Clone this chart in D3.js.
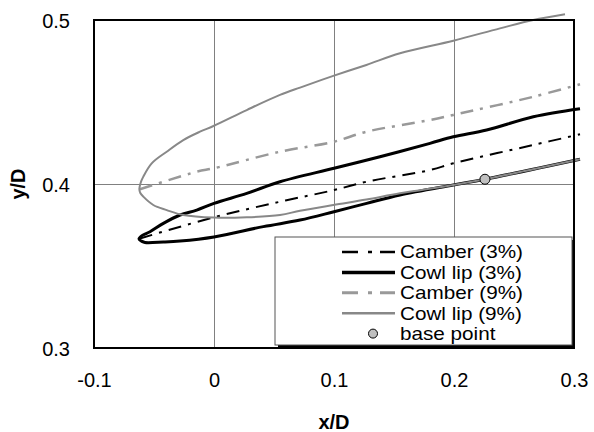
<!DOCTYPE html>
<html><head><meta charset="utf-8">
<script src="https://cdn.jsdelivr.net/npm/d3@7"></script>
<style>body{margin:0;background:#fff}svg{display:block}text{font-family:"Liberation Sans",Arial,sans-serif}</style>
</head><body>
<script>
// ---- data ----
const xTicks = [-0.1, 0, 0.1, 0.2, 0.3];
const xTickLabels = ["-0.1", "0", "0.1", "0.2", "0.3"];
const yTicks = [0.3, 0.4, 0.5];
const yTickLabels = ["0.3", "0.4", "0.5"];
const seriesNames = ["Camber (3%)", "Cowl lip (3%)", "Camber (9%)", "Cowl lip (9%)", "base point"];

const camber3X = [-0.0617, 0.0, 0.055, 0.1, 0.1272, 0.18, 0.1994, 0.2661, 0.305];
const camber3Y = [0.3668, 0.3797, 0.3892, 0.3963, 0.4014, 0.4085, 0.4126, 0.4238, 0.4303];

const cowl3X = [0.305, 0.2661, 0.2272, 0.1994, 0.18, 0.1383, 0.1, 0.055, 0.0273, 0.0, -0.0144, -0.0283, -0.0422, -0.0533, -0.0600, -0.0625,
                -0.0600, -0.0575, -0.0422, -0.0283, 0.0, 0.0411, 0.0717, 0.1, 0.1272, 0.155, 0.1994, 0.2258, 0.305];
const cowl3Y = [0.4459, 0.441, 0.4329, 0.4288, 0.4248, 0.4166, 0.4096, 0.4014, 0.3943, 0.3882, 0.3841, 0.3811, 0.376, 0.3709, 0.3685, 0.3665,
                0.3650, 0.3643, 0.3646, 0.3652, 0.3677, 0.374, 0.378, 0.3831, 0.3882, 0.3933, 0.3994, 0.4029, 0.4151];

const camber9X = [-0.0617, -0.0144, 0.0, 0.055, 0.1, 0.1272, 0.18, 0.1994, 0.2661, 0.305];
const camber9Y = [0.3968, 0.4075, 0.4096, 0.4197, 0.4258, 0.4319, 0.439, 0.4421, 0.4532, 0.4608];

const cowl9X = [0.2925, 0.266, 0.2383, 0.1994, 0.155, 0.127, 0.0994, 0.0717, 0.055, 0.0273, 0.0, -0.0117, -0.0256, -0.0394, -0.0519, -0.0589, -0.0611, -0.0622,
                -0.0614, -0.0589, -0.0506, -0.0394, -0.0256, 0.0, 0.0273, 0.055, 0.0717, 0.0994, 0.127, 0.155, 0.1994, 0.2258, 0.305];
const cowl9Y = [0.5035, 0.5, 0.4949, 0.4874, 0.4797, 0.4726, 0.4659, 0.4588, 0.4543, 0.4451, 0.4355, 0.4319, 0.4268, 0.4197, 0.4126, 0.4045, 0.4008, 0.397,
                0.3945, 0.3923, 0.3872, 0.3841, 0.3811, 0.3795, 0.3797, 0.3811, 0.3837, 0.3872, 0.3905, 0.3943, 0.3994, 0.4029, 0.4151];

const baseX = [0.2258];
const baseY = [0.4029];

// ---- layout ----
const W = 594, H = 432;
const m = {left: 94, top: 20, right: 20, bottom: 84};
const svg = d3.select("body").append("svg").attr("width", W).attr("height", H);
const x = d3.scaleLinear().domain([-0.1, 0.3]).range([m.left, W - m.right]);
const y = d3.scaleLinear().domain([0.3, 0.5]).range([H - m.bottom, m.top]);

// grid
const g = svg.append("g").attr("shape-rendering", "crispEdges");
g.selectAll(".vg").data(xTicks).join("line")
  .attr("x1", d => x(d)).attr("x2", d => x(d)).attr("y1", y(0.3)).attr("y2", y(0.5))
  .attr("stroke", "#808080").attr("stroke-width", 1);
g.selectAll(".hg").data(yTicks).join("line")
  .attr("x1", x(-0.1)).attr("x2", x(0.3)).attr("y1", d => y(d)).attr("y2", d => y(d))
  .attr("stroke", "#808080").attr("stroke-width", 1);

// axes via d3 axis (labels only)
const xAxis = svg.append("g").attr("transform", `translate(0,${y(0.3)})`)
  .call(d3.axisBottom(x).tickValues(xTicks).tickFormat((d, i) => xTickLabels[i]).tickSize(0).tickPadding(25));
const yAxis = svg.append("g").attr("transform", `translate(${x(-0.1)},0)`)
  .call(d3.axisLeft(y).tickValues(yTicks).tickFormat((d, i) => yTickLabels[i]).tickSize(0).tickPadding(24));
[xAxis, yAxis].forEach(a => {
  a.select(".domain").remove();
  a.selectAll("text").attr("font-size", 20).attr("fill", "#000").attr("font-family", "Liberation Sans, Arial, sans-serif");
});
yAxis.selectAll("text").attr("dy", "0.36em");

// curves
const line = d3.line().x(d => x(d[0])).y(d => y(d[1])).curve(d3.curveCatmullRom.alpha(0.5));
const zip = (a, b) => a.map((v, i) => [v, b[i]]);
const series = [
  {xs: camber3X, ys: camber3Y, color: "#000", w: 2, dash: "13,7,3,7"},
  {xs: cowl3X, ys: cowl3Y, color: "#000", w: 3, dash: null},
  {xs: camber9X, ys: camber9Y, color: "#999999", w: 2.5, dash: "13,7,3,7"},
  {xs: cowl9X, ys: cowl9Y, color: "#888888", w: 2, dash: null}
];
series.forEach(s => {
  svg.append("path").datum(zip(s.xs, s.ys)).attr("d", line)
    .attr("fill", "none").attr("stroke", s.color).attr("stroke-width", s.w)
    .attr("stroke-dasharray", s.dash).attr("stroke-linejoin", "round");
});
svg.selectAll(".bp").data(zip(baseX, baseY)).join("circle")
  .attr("cx", d => x(d[0])).attr("cy", d => y(d[1])).attr("r", 5)
  .attr("fill", "#c0c0c0").attr("stroke", "#000").attr("stroke-width", 1);

// plot border
svg.append("rect").attr("x", x(-0.1)).attr("y", y(0.5)).attr("width", x(0.3) - x(-0.1)).attr("height", y(0.3) - y(0.5))
  .attr("fill", "none").attr("stroke", "#000").attr("stroke-width", 2);

// axis titles
svg.append("text").attr("x", (x(-0.1) + x(0.3)) / 2).attr("y", 429).attr("text-anchor", "middle")
  .attr("font-size", 20).attr("font-weight", "bold").text("x/D");
svg.append("text").attr("transform", `translate(25,${y(0.4)}) rotate(-90)`).attr("text-anchor", "middle")
  .attr("font-size", 20).attr("font-weight", "bold").text("y/D");

// legend
const L = {x: 275, y: 237, w: 297, h: 108};
svg.append("rect").attr("x", L.x + 3).attr("y", L.y + 3).attr("width", L.w).attr("height", L.h).attr("fill", "#000");
svg.append("rect").attr("x", L.x).attr("y", L.y).attr("width", L.w).attr("height", L.h)
  .attr("fill", "#fff").attr("stroke", "#555").attr("stroke-width", 1);
const rowY = i => 252 + i * 20.4;
seriesNames.forEach((name, i) => {
  const yy = rowY(i);
  if (i < 4) {
    const s = series[i];
    svg.append("line").attr("x1", 342).attr("x2", 395).attr("y1", yy).attr("y2", yy)
      .attr("stroke", s.color).attr("stroke-width", s.w + 0.5).attr("stroke-dasharray", s.dash ? "16,10,4,8" : null);
  } else {
    svg.append("circle").attr("cx", 373).attr("cy", yy).attr("r", 4.5)
      .attr("fill", "#c0c0c0").attr("stroke", "#000").attr("stroke-width", 1);
  }
  svg.append("text").attr("transform", `translate(400,${yy}) scale(1.15,1)`).attr("dy", "0.36em")
    .attr("font-size", 18).text(name);
});
</script>
</body></html>
